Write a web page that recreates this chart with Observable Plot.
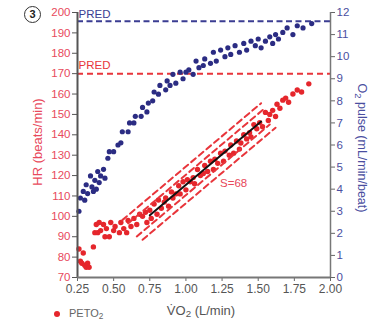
<!DOCTYPE html>
<html>
<head>
<meta charset="utf-8">
<script src="https://cdn.jsdelivr.net/npm/d3@7"></script>
<script src="https://cdn.jsdelivr.net/npm/@observablehq/plot@0.6"></script>
<style>
  body { margin: 0; background: #fff; font-family: "Liberation Sans", Arial, sans-serif; }
  #wrap { position: relative; width: 387px; height: 324px; overflow: hidden; }
  .ov { position: absolute; white-space: nowrap; }
  sub { font-size: 0.75em; vertical-align: -0.3em; line-height: 0; }
</style>
</head>
<body>
<div id="wrap"></div>
<script>
// ---- data ----
const xTicks = [0.25, 0.50, 0.75, 1.00, 1.25, 1.50, 1.75, 2.00];
const hrTicks = [70, 80, 90, 100, 110, 120, 130, 140, 150, 160, 170, 180, 190, 200];
const o2Ticks = [0, 1, 2, 3, 4, 5, 6, 7, 8, 9, 10, 11, 12];

// O2 pulse (right axis) vs VO2
const vo2Blue = [0.26, 0.27, 0.29, 0.30, 0.31, 0.32, 0.34, 0.35, 0.36, 0.37, 0.38, 0.39, 0.40, 0.41, 0.43, 0.44,
  0.46, 0.47, 0.50, 0.53, 0.55, 0.56, 0.60, 0.61, 0.64, 0.65, 0.69, 0.70, 0.73, 0.74, 0.77, 0.78, 0.81, 0.82, 0.86, 0.87, 0.89, 0.91, 0.93, 0.96, 0.98,
  1.00, 1.02, 1.05, 1.07, 1.09, 1.12, 1.13, 1.17, 1.19, 1.21, 1.24, 1.27, 1.29, 1.31, 1.34, 1.37, 1.40, 1.42, 1.45, 1.48, 1.50, 1.52, 1.55, 1.58, 1.60, 1.62, 1.64, 1.67, 1.70, 1.74, 1.77, 1.81, 1.87];
const o2Pulse = [3.0, 3.6, 3.9, 3.5, 4.2, 3.8, 4.6, 4.1, 3.9, 4.4, 4.0, 4.8, 4.3, 4.6, 4.9, 4.5,
  5.4, 5.7, 5.7, 6.0, 6.1, 6.6, 6.6, 7.0, 7.0, 7.3, 7.3, 7.7, 7.5, 7.9, 8.0, 8.4, 8.3, 8.7, 8.5, 8.9, 8.7, 9.2, 8.8, 9.3, 9.0,
  9.3, 9.4, 9.2, 9.8, 9.5, 9.6, 9.9, 9.7, 10.2, 9.8, 10.3, 10.0, 10.4, 10.1, 10.5, 10.2, 10.6, 10.3, 10.7, 10.5, 10.8, 10.4, 10.7, 10.9, 10.6, 11.0, 10.8, 11.1, 11.3, 11.0, 11.4, 11.3, 11.5];

// HR (left axis) vs VO2
const vo2Red = [0.26, 0.27, 0.28, 0.29, 0.30, 0.31, 0.32, 0.33,
  0.36, 0.37, 0.38, 0.39, 0.40, 0.41, 0.43, 0.44, 0.45, 0.47, 0.48, 0.50, 0.51, 0.54, 0.55, 0.57, 0.59, 0.60, 0.62, 0.64, 0.66, 0.68, 0.70,
  0.72, 0.73, 0.75, 0.76, 0.78, 0.80, 0.81, 0.83, 0.85, 0.86, 0.88, 0.90, 0.91, 0.93, 0.95, 0.96, 0.98, 1.00, 1.01, 1.03, 1.05, 1.06, 1.08, 1.10,
  1.12, 1.13, 1.15, 1.17, 1.19, 1.20, 1.22, 1.24, 1.26, 1.27, 1.30, 1.31, 1.33, 1.35, 1.37, 1.38, 1.40, 1.42, 1.44, 1.45, 1.47, 1.49, 1.51, 1.53,
  1.55, 1.57, 1.58, 1.60, 1.62, 1.63, 1.65, 1.67, 1.69, 1.71, 1.74, 1.77, 1.80, 1.85];
const hr = [84, 78, 77, 82, 76, 75, 77, 75,
  85, 92, 96, 92, 97, 93, 96, 90, 94, 90, 97, 93, 95, 92, 97, 94, 92, 98, 95, 99, 96, 101, 100,
  102, 97, 103, 99, 106, 101, 108, 104, 107, 109, 105, 112, 109, 111, 115, 111, 117, 113, 118, 117, 119, 116, 123, 120,
  121, 125, 122, 127, 123, 128, 126, 131, 127, 132, 130, 135, 131, 137, 133, 136, 140, 138, 141, 139, 145, 143, 146, 144,
  151, 147, 150, 152, 149, 155, 153, 157, 158, 156, 160, 162, 161, 165];

// reference values
const predHR = 170;
const predO2 = 11.6;

// regression line and bands
const fitX = [0.75, 1.52];
const fitHR = [100.5, 146.5];
const bandOffset = [-9, -5, 5, 9];
const bandX0 = [0.70, 0.66, 0.60, 0.56];
const bandX1 = [1.62, 1.58, 1.55, 1.52];
const slopeLabel = "S=68";
const slopeLabelPos = [1.33, 116];

// ---- build ----
const red = "#e5262c", blue = "#2b2c83";
const redText = "#e84a5c", blueText = "#4a4ea0", grayText = "#555";
const o2ToHr = v => 70 + v * 130 / 12;
const hrToO2 = v => (v - 70) * 12 / 130;

const blueData = vo2Blue.map((v, i) => ({vo2: v, y: o2ToHr(o2Pulse[i])}));
const redData = vo2Red.map((v, i) => ({vo2: v, y: hr[i]}));
const slope = (fitHR[1] - fitHR[0]) / (fitX[1] - fitX[0]);
const fit = x => fitHR[0] + slope * (x - fitX[0]);
const bandData = bandOffset.flatMap((o, i) => [
  {band: i, vo2: bandX0[i], y: fit(bandX0[i]) + o},
  {band: i, vo2: bandX1[i], y: fit(bandX1[i]) + o}
]);
const fitData = fitX.map((x, i) => ({vo2: x, y: fitHR[i]}));

const chart = Plot.plot({
  width: 387,
  height: 324,
  marginLeft: 77,
  marginRight: 57,
  marginTop: 12,
  marginBottom: 47,
  style: {fontFamily: "'Liberation Sans', Arial, sans-serif", fontSize: "11.5px", background: "transparent"},
  x: {domain: [0.25, 2.0]},
  y: {domain: [70, 200]},
  marks: [
    Plot.ruleY([predHR], {stroke: "#e8353b", strokeWidth: 2, strokeDasharray: "6,4"}),
    Plot.ruleY([o2ToHr(predO2)], {stroke: "#3b3d92", strokeWidth: 2, strokeDasharray: "6,3.5"}),
    Plot.text([predHR], {x: 0.25, y: d => d, text: () => "PRED", textAnchor: "start", dx: 1, dy: -8, fill: "#e8353b", fontSize: 11.5}),
    Plot.text([o2ToHr(predO2)], {x: 0.25, y: d => d, text: () => "PRED", textAnchor: "start", dx: 1, dy: -7, fill: "#3b3d92", fontSize: 11.5}),
    Plot.dot(blueData, {x: "vo2", y: "y", r: 2.6, fill: blue, stroke: "none"}),
    Plot.dot(redData, {x: "vo2", y: "y", r: 2.7, fill: red, stroke: "none"}),
    Plot.line(bandData, {x: "vo2", y: "y", z: "band", stroke: "#e8353b", strokeWidth: 2, strokeDasharray: "6,4"}),
    Plot.line(fitData, {x: "vo2", y: "y", stroke: "#111", strokeWidth: 2}),
    Plot.text([slopeLabelPos], {x: d => d[0], y: d => d[1], text: () => slopeLabel, fill: "#e8485a", fontSize: 11.5}),
    Plot.axisX({ticks: xTicks, tickFormat: d3.format(".2f"), tickSize: 4, tickPadding: 3, stroke: "#666", fill: grayText, fontSize: 12, label: null}),
    Plot.axisY({anchor: "left", ticks: hrTicks, tickSize: 5, tickPadding: 2, stroke: "#555", fill: redText, fontSize: 11.5, label: null}),
    Plot.axisY({anchor: "right", ticks: o2Ticks.map(o2ToHr), tickFormat: v => String(Math.round(hrToO2(v))), tickSize: 4, tickPadding: 2, stroke: "#666", fill: blueText, fontSize: 11.5, label: null}),
    Plot.ruleX([0.25], {stroke: "#555", strokeWidth: 2}),
    Plot.ruleX([2.0], {stroke: "#777", strokeWidth: 1.5}),
    Plot.ruleY([70], {stroke: "#777", strokeWidth: 2})
  ]
});

const wrap = document.getElementById("wrap");
wrap.appendChild(chart);

function overlay(html, css) {
  const d = document.createElement("div");
  d.className = "ov";
  d.innerHTML = html;
  Object.assign(d.style, css);
  wrap.appendChild(d);
  return d;
}
// circled panel number
overlay("3", {left: "24px", top: "6px", width: "15px", height: "15px", border: "1.6px solid #333", borderRadius: "50%",
  textAlign: "center", lineHeight: "15px", fontSize: "11px", fontWeight: "bold", color: "#222"});
// left axis label
overlay("HR (beats/min)", {left: "37px", top: "142px", transform: "translate(-50%,-50%) rotate(-90deg)", color: redText, fontSize: "13px"});
// right axis label
overlay("O<sub>2</sub> pulse (mL/min/beat)", {left: "362px", top: "148px", transform: "translate(-50%,-50%) rotate(90deg)", color: blueText, fontSize: "12.5px"});
// x axis label
overlay("V\u0307O<sub>2</sub> (L/min)", {left: "201px", top: "310px", transform: "translate(-50%,-50%)", color: grayText, fontSize: "13px"});
// legend
overlay("<span style='display:inline-block;width:6px;height:6px;border-radius:50%;background:" + red + ";vertical-align:middle;margin-right:9px'></span>PETO<sub>2</sub>",
  {left: "54px", top: "307px", color: "#666", fontSize: "11px", lineHeight: "13px"});
</script>
</body>
</html>
